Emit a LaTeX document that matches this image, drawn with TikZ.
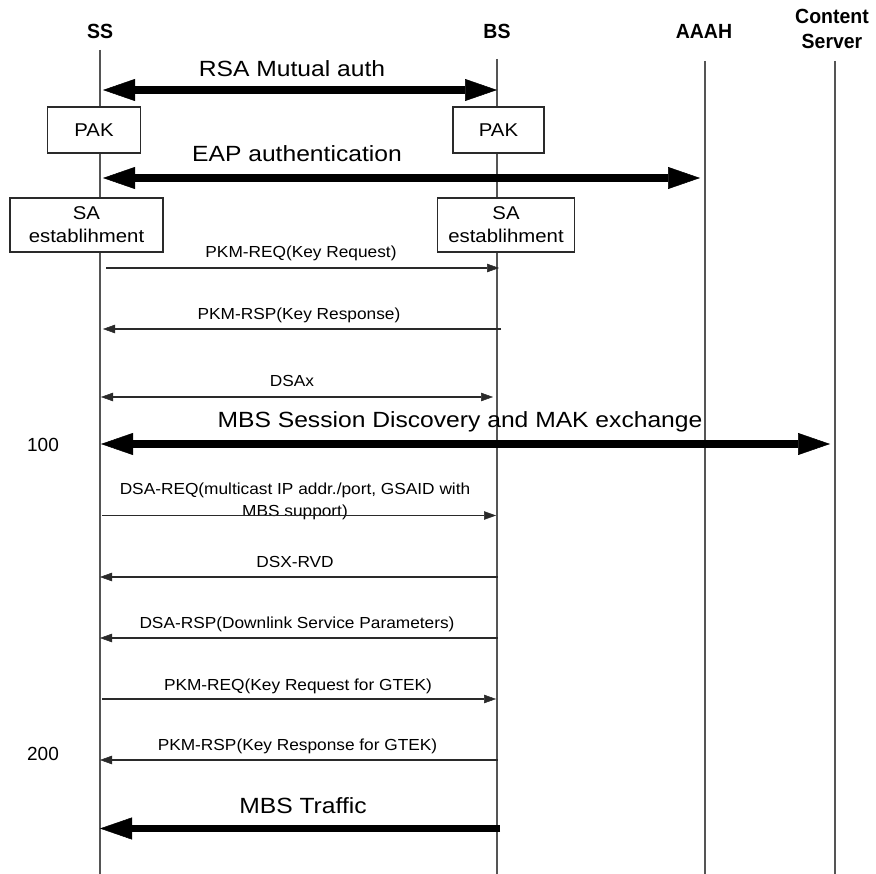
\documentclass[tikz,border=0pt]{standalone}
\usepackage{fontspec}
\setmainfont{Liberation Sans}
\newfontfamily\hdfont[FakeStretch=0.95]{Liberation Sans}
\newfontfamily\bigfont[FakeStretch=1.12]{Liberation Sans}
\newfontfamily\boxfont[FakeStretch=1.1]{Liberation Sans}
\newfontfamily\msgfont[FakeStretch=1.08]{Liberation Sans}
\usetikzlibrary{arrows.meta}
\definecolor{lifegray}{HTML}{555555}
\definecolor{msggray}{HTML}{2A2A2A}
\begin{document}
\begin{tikzpicture}[x=1pt,y=-1pt,
  lifeline/.style={draw=lifegray, line width=1.1pt},
  hdr/.style={font=\hdfont\fontsize{20.5}{25}\selectfont\bfseries, align=center, inner sep=0pt},
  biglabel/.style={font=\bigfont\fontsize{22}{26}\selectfont, inner sep=0pt, anchor=base},
  msglabel/.style={font=\msgfont\fontsize{16}{22}\selectfont, inner sep=0pt, anchor=base, align=center},
  numlabel/.style={font=\fontsize{19}{22}\selectfont, inner sep=0pt, anchor=base},
  statebox/.style={draw=msggray, line width=1.1pt, fill=white, inner sep=0pt,
    font=\boxfont\fontsize{18.5}{23}\selectfont, align=center},
  bigarrow/.style={draw=black, line width=7.5pt, -{Triangle[length=32pt,width=22pt,line width=0.5pt]}},
  bigboth/.style={draw=black, line width=7.5pt, {Triangle[length=32pt,width=22pt,line width=0.5pt]}-{Triangle[length=32pt,width=22pt,line width=0.5pt]}},
  msgarrow/.style={draw=msggray, line width=1.2pt, -{Triangle[length=12pt,width=8.5pt,line width=0.5pt]}},
  msgboth/.style={draw=msggray, line width=1.2pt, {Triangle[length=12pt,width=8.5pt,line width=0.5pt]}-{Triangle[length=12pt,width=8.5pt,line width=0.5pt]}}
]
\useasboundingbox (0,0) rectangle (876,874);
\fill[white] (0,0) rectangle (876,874);

% headers
\node[hdr, anchor=base] (ssH) at (100,39) {SS};
\node[hdr, anchor=base] (bsH) at (497,39) {BS};
\node[hdr, anchor=base] (aaahH) at (704,39) {AAAH};
\node[hdr] (csH) at (832,28.5) {Content\\Server};

% lifelines
\coordinate (ssTop) at (100,50);   \coordinate (ssBot) at (100,874);
\coordinate (bsTop) at (497,59);   \coordinate (bsBot) at (497,874);
\coordinate (aaTop) at (705,61);   \coordinate (aaBot) at (705,874);
\coordinate (csTop) at (835,61);   \coordinate (csBot) at (835,874);
\draw[lifeline] (ssTop) -- (ssBot);
\draw[lifeline] (bsTop) -- (bsBot);
\draw[lifeline] (aaTop) -- (aaBot);
\draw[lifeline] (csTop) -- (csBot);

% RSA mutual auth
\node[biglabel] (rsaL) at (292,77) {RSA Mutual auth};
\coordinate (rsaA) at (103,90); \coordinate (rsaB) at (497,90);
\draw[bigboth] (rsaA) -- (rsaB);

% PAK boxes
\node[statebox, minimum width=92.3pt, minimum height=46pt] (pakSS) at (94,130) {PAK};
\node[statebox, minimum width=91pt, minimum height=46pt] (pakBS) at (498.5,130) {PAK};

% EAP authentication
\node[biglabel] (eapL) at (297,162) {EAP authentication};
\coordinate (eapA) at (103,178); \coordinate (eapB) at (700,178);
\draw[bigboth] (eapA) -- (eapB);

% SA boxes
\node[statebox, minimum width=153pt, minimum height=54pt] (saSS) at (86.5,225) {SA\\establihment};
\node[statebox, minimum width=136.6pt, minimum height=54pt] (saBS) at (506,225) {SA\\establihment};

% PKM-REQ
\node[msglabel] (m1L) at (301,258) {PKM-REQ(Key Request)};
\coordinate (m1A) at (106,268); \coordinate (m1B) at (499,268);
\draw[msgarrow] (m1A) -- (m1B);

% PKM-RSP
\node[msglabel] (m2L) at (299,320) {PKM-RSP(Key Response)};
\coordinate (m2A) at (501,329); \coordinate (m2B) at (103,329);
\draw[msgarrow] (m2A) -- (m2B);

% DSAx
\node[msglabel] (m3L) at (292,387) {DSAx};
\coordinate (m3A) at (101,397); \coordinate (m3B) at (493,397);
\draw[msgboth] (m3A) -- (m3B);

% MBS Session Discovery
\node[biglabel] (mbsL) at (460,428) {MBS Session Discovery and MAK exchange};
\coordinate (mbsA) at (101,444); \coordinate (mbsB) at (830,444);
\draw[bigboth] (mbsA) -- (mbsB);
\node[numlabel] (n100) at (43,452) {100};

% DSA-REQ
\node[msglabel, anchor=center] (m4L) at (295,501.5) {DSA-REQ(multicast IP addr./port, GSAID with\\MBS support)};
\coordinate (m4A) at (102,515.5); \coordinate (m4B) at (496,515.5);
\draw[msgarrow] (m4A) -- (m4B);

% DSX-RVD
\node[msglabel] (m5L) at (295,567) {DSX-RVD};
\coordinate (m5A) at (497.5,577); \coordinate (m5B) at (100,577);
\draw[msgarrow] (m5A) -- (m5B);

% DSA-RSP
\node[msglabel] (m6L) at (297,628) {DSA-RSP(Downlink Service Parameters)};
\coordinate (m6A) at (497.5,638); \coordinate (m6B) at (100,638);
\draw[msgarrow] (m6A) -- (m6B);

% PKM-REQ GTEK
\node[msglabel] (m7L) at (298,690) {PKM-REQ(Key Request for GTEK)};
\coordinate (m7A) at (102,699); \coordinate (m7B) at (496,699);
\draw[msgarrow] (m7A) -- (m7B);

% PKM-RSP GTEK
\node[msglabel] (m8L) at (297.5,750) {PKM-RSP(Key Response for GTEK)};
\coordinate (m8A) at (497.5,760); \coordinate (m8B) at (100,760);
\draw[msgarrow] (m8A) -- (m8B);
\node[numlabel] (n200) at (43,760) {200};

% MBS Traffic
\node[biglabel] (trL) at (303,813) {MBS Traffic};
\coordinate (trA) at (500,828.5); \coordinate (trB) at (100,828.5);
\draw[bigarrow] (trA) -- (trB);
\end{tikzpicture}
\end{document}
